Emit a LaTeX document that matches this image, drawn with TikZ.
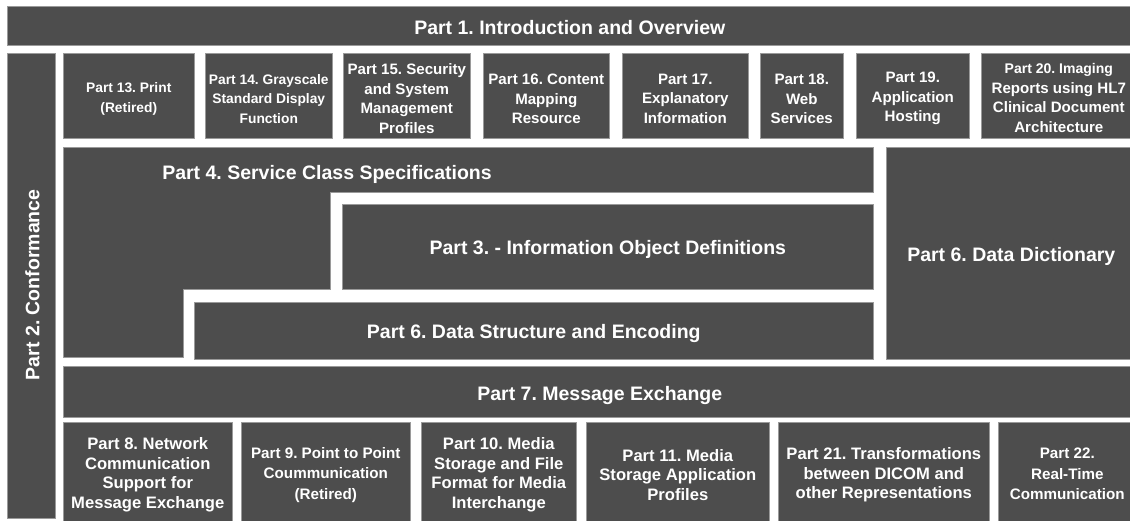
\documentclass[tikz,border=0pt]{standalone}
\usepackage{fontspec}
\setmainfont{Liberation Sans}
\definecolor{boxfill}{HTML}{4D4D4D}
\definecolor{boxline}{HTML}{9A9A9A}
\begin{document}
\frenchspacing
\begin{tikzpicture}[x=1pt,y=-1pt,
  box/.style={fill=boxfill,draw=boxline,line width=0.6pt,anchor=north west,inner sep=0pt},
  lbl/.style={text=white,inner sep=0pt,align=center,font=\bfseries\fontsize{14}{19.5}\selectfont},
  sa/.style={font=\bfseries\fontsize{13.8}{19.7}\selectfont},
  sb/.style={font=\bfseries\fontsize{15.1}{19.5}\selectfont},
  sc/.style={font=\bfseries\fontsize{15.2}{20.7}\selectfont},
  sd/.style={font=\bfseries\fontsize{16.6}{19.7}\selectfont},
  big/.style={font=\bfseries\fontsize{19.5}{24}\selectfont}]
\useasboundingbox (0,0) rectangle (1130,520);
% Part 1
\node[box,minimum width=1125,minimum height=39] (p1) at (7,6) {};
\node[lbl,big] (p1t) at ([yshift=-2pt]p1.center) {Part 1. Introduction and Overview};
% Part 2
\node[box,minimum width=48,minimum height=465] (p2) at (7,53) {};
\node[lbl,big,rotate=90] (p2t) at ([xshift=1pt,yshift=1pt]p2.center) {Part 2. Conformance};
% top row
\node[box,minimum width=131,minimum height=85] (p13) at (63,53) {};
\node[box,minimum width=127,minimum height=85] (p14) at (205,53) {};
\node[box,minimum width=127,minimum height=85] (p15) at (343,53) {};
\node[box,minimum width=126,minimum height=85] (p16) at (483,53) {};
\node[box,minimum width=126,minimum height=85] (p17) at (622,53) {};
\node[box,minimum width=83,minimum height=85] (p18) at (760,53) {};
\node[box,minimum width=113,minimum height=85] (p19) at (856,53) {};
\node[box,minimum width=151,minimum height=85] (p20) at (981,53) {};
\node[lbl,sa] (p13t) at ([yshift=-3pt]p13.center) {Part 13. Print\\(Retired)};
\node[lbl,sa] (p14t) at ([yshift=-3pt]p14.center) {Part 14. Grayscale\\Standard Display\\Function};
\node[lbl,sb] (p15t) at ([yshift=-3pt]p15.center) {Part 15. Security\\and System\\Management\\Profiles};
\node[lbl,sb] (p16t) at ([yshift=-3pt]p16.center) {Part 16. Content\\Mapping\\Resource};
\node[lbl,sb] (p17t) at ([yshift=-3pt]p17.center) {Part 17.\\Explanatory\\Information};
\node[lbl,sb] (p18t) at ([yshift=-3pt]p18.center) {Part 18.\\Web\\Services};
\node[lbl,sb] (p19t) at ([yshift=-3pt]p19.center) {Part 19.\\Application\\Hosting};
\node[lbl,sb] (p20t) at ([xshift=2pt,yshift=-2pt]p20.center) {{\fontsize{14}{19.5}\selectfont Part 20. Imaging}\\Reports using HL7\\Clinical Document\\Architecture};
% Part 4 (stepped shape)
\path[fill=boxfill,draw=boxline,line width=0.6pt] (63,147) -- (873,147) -- (873,192) -- (330,192) -- (330,289) -- (183,289) -- (183,357) -- (63,357) -- cycle;
\node[lbl,big] (p4) at (327,174) {Part 4. Service Class Specifications};
% Part 3
\node[box,minimum width=531,minimum height=85] (p3) at (342,204) {};
\node[lbl,big] (p3t) at ([yshift=-3pt]p3.center) {Part 3. - Information Object Definitions};
% Part 5 (labelled Part 6)
\node[box,minimum width=679,minimum height=57] (p5) at (194,302) {};
\node[lbl,big] (p5t) at ([yshift=-3pt]p5.center) {Part 6. Data Structure and Encoding};
% Part 6
\node[box,minimum width=246,minimum height=212] (p6) at (886,147) {};
\node[lbl,big] (p6t) at ([xshift=2pt,yshift=-3pt]p6.center) {Part 6. Data Dictionary};
% Part 7
\node[box,minimum width=1069,minimum height=51] (p7) at (63,366) {};
\node[lbl,big] (p7t) at ([xshift=2pt,yshift=-4pt]p7.center) {Part 7. Message Exchange};
% bottom row
\node[box,minimum width=169,minimum height=101] (p8) at (63,422) {};
\node[box,minimum width=169,minimum height=101] (p9) at (241,422) {};
\node[box,minimum width=155,minimum height=101] (p10) at (421,422) {};
\node[box,minimum width=183,minimum height=101] (p11) at (586,422) {};
\node[box,minimum width=211,minimum height=101] (p21) at (778,422) {};
\node[box,minimum width=134,minimum height=101] (p22) at (998,422) {};
\node[lbl,sd] (p8t) at ([yshift=-2pt]p8.center) {Part 8. Network\\Communication\\Support for\\Message Exchange};
\node[lbl,sc] (p9t) at ([yshift=-2pt]p9.center) {Part 9. Point to Point\\Coummunication\\(Retired)};
\node[lbl,sd] (p10t) at ([yshift=-2pt]p10.center) {Part 10. Media\\Storage and File\\Format for Media\\Interchange};
\node[lbl,sd] (p11t) at ([yshift=-2pt]p11.center) {Part 11. Media\\Storage Application\\Profiles};
\node[lbl,sd] (p21t) at ([yshift=-2pt]p21.center) {Part 21. Transformations\\between DICOM and\\other Representations};
\node[lbl,sc] (p22t) at ([xshift=2pt,yshift=-1pt]p22.center) {Part 22.\\Real-Time\\Communication};
\end{tikzpicture}
\end{document}
